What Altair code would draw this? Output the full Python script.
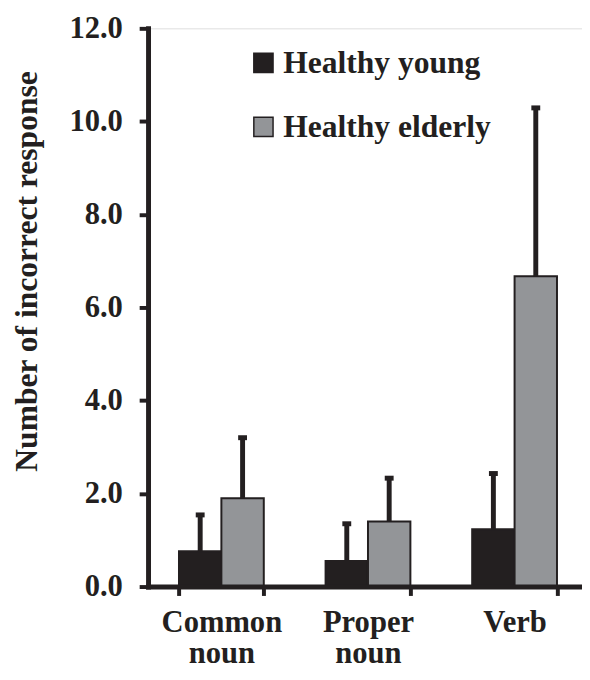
import altair as alt
import pandas as pd

categories = ["Common noun", "Proper noun", "Verb"]
groups = ["Healthy young", "Healthy elderly"]
young_mean = [0.76, 0.55, 1.23]
young_sd = [0.78, 0.80, 1.20]
elderly_mean = [1.90, 1.40, 6.67]
elderly_sd = [1.30, 0.93, 3.62]
y_ticks = [0, 2, 4, 6, 8, 10, 12]
colors = ["#231f20", "#939598"]

rows = []
for i, c in enumerate(categories):
    rows.append({"cat": c, "group": groups[0], "mean": young_mean[i], "upper": young_mean[i] + young_sd[i]})
    rows.append({"cat": c, "group": groups[1], "mean": elderly_mean[i], "upper": elderly_mean[i] + elderly_sd[i]})
df = pd.DataFrame(rows)

FONT = "Liberation Serif, Times New Roman, Times, serif"
INK = "#231f20"

x = alt.X(
    "cat:N", sort=categories,
    scale=alt.Scale(paddingInner=0.4215, paddingOuter=0.211, range=[0, 446]),
    axis=alt.Axis(
        title=None, labelAngle=0, labelExpr="split(datum.label, ' ')",
        tickBand="extent", labelFont=FONT, labelFontSize=31, labelFontWeight="bold",
        labelColor=INK, labelBaseline="alphabetic", labelLineHeight=31, labelPadding=37,
        domainColor=INK, domainWidth=5, domainCap="square", tickColor=INK, tickWidth=4, tickSize=9,
        zindex=1,
    ),
)
xoff = alt.XOffset("group:N", sort=groups, scale=alt.Scale(paddingInner=0, paddingOuter=0))
y = alt.Y(
    "mean:Q", scale=alt.Scale(domain=[0, 12], nice=False),
    axis=alt.Axis(
        values=y_ticks, format=".1f", title="Number of incorrect response", grid=False,
        labelFont=FONT, labelFontSize=31, labelFontWeight="bold", labelColor=INK, labelPadding=17,
        domainColor=INK, domainWidth=5, domainCap="square", tickColor=INK, tickWidth=4, tickSize=9,
        titleFont=FONT, titleFontSize=32, titleFontWeight="bold", titleColor=INK,
        titleAngle=-90, titleAlign="center", titleBaseline="alphabetic", titleX=-113, titleY=246,
        zindex=1,
    ),
)
color = alt.Color(
    "group:N", sort=groups, scale=alt.Scale(domain=groups, range=colors),
    legend=alt.Legend(
        title=None, orient="none", legendX=101, legendY=19, direction="vertical", padding=0,
        labelFont=FONT, labelFontSize=32, labelFontWeight="bold", labelColor=INK, labelOffset=4,
        labelLimit=0, rowPadding=33, symbolType="square", symbolSize=380, symbolStrokeColor=INK,
        symbolStrokeWidth=1.5, symbolOpacity=1,
    ),
)

base = alt.Chart(df)
bars = base.mark_bar(stroke=INK, strokeWidth=2).encode(x=x, xOffset=xoff, y=y, color=color)
err = base.mark_rule(strokeWidth=5, color=INK).encode(x=x, xOffset=xoff, y="mean:Q", y2="upper:Q")
cap = base.mark_tick(size=9, thickness=5, color=INK, opacity=1).encode(x=x, xOffset=xoff, y="upper:Q")

chart = alt.layer(bars, err, cap).properties(
    width=440, height=566,
    autosize=alt.AutoSizeParams(type="none"),
    padding={"left": 142, "top": 16, "right": 0, "bottom": 82},
).configure_view(stroke=None).configure(background="white")

chart.save("out.html", embed_options={"renderer": "svg", "actions": False})
